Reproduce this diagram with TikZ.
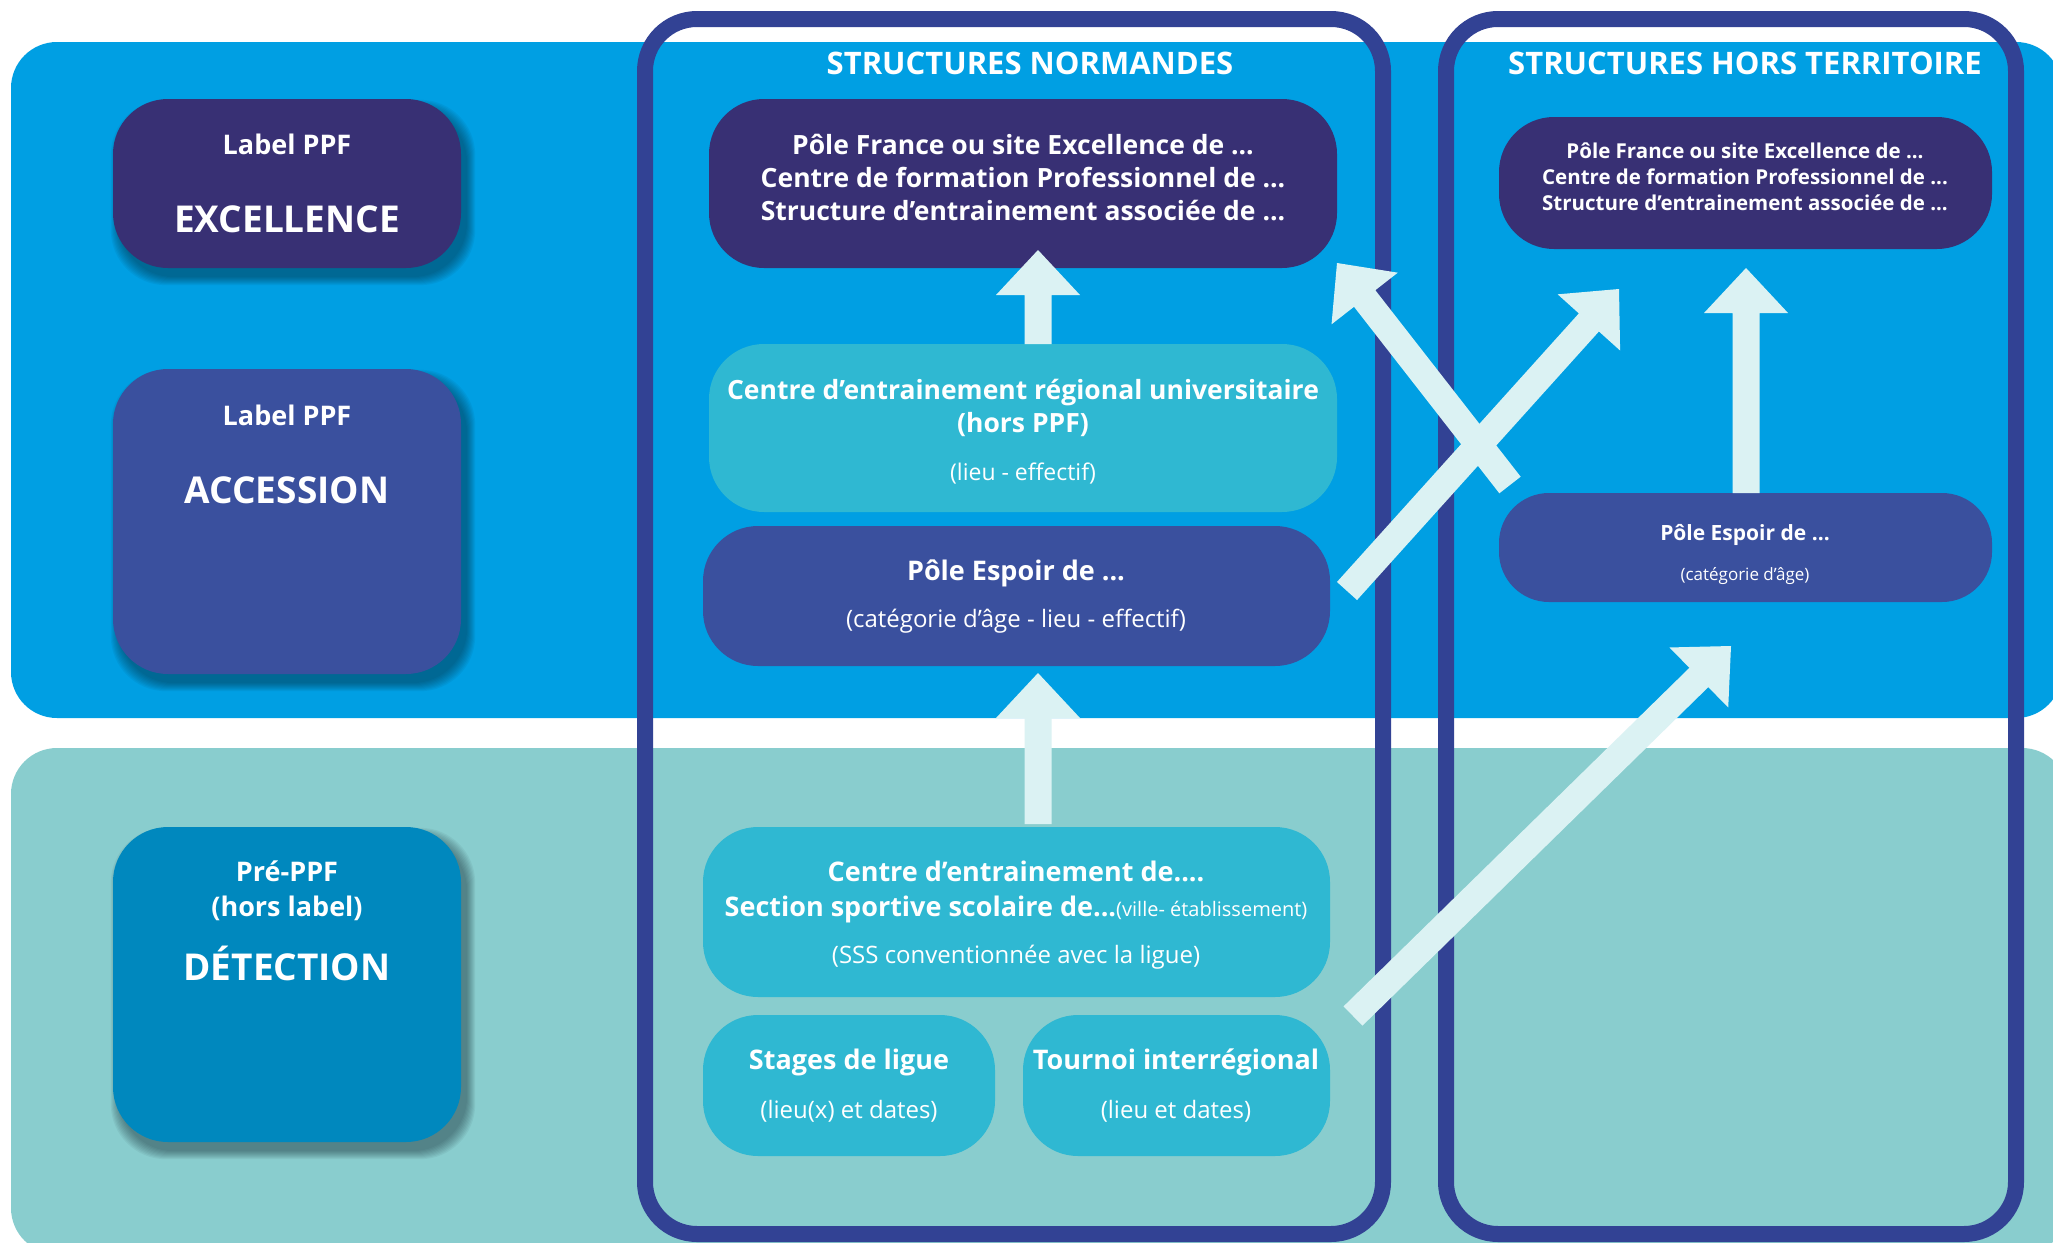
\documentclass[tikz,border=0pt]{standalone}
\usepackage{fontspec}
\setmainfont{Open Sans}
\usetikzlibrary{calc}
\definecolor{topblue}{RGB}{0,159,227}
\definecolor{botteal}{RGB}{137,205,206}
\definecolor{darkc}{RGB}{56,48,116}
\definecolor{midc}{RGB}{58,80,158}
\definecolor{detc}{RGB}{0,136,190}
\definecolor{lightc}{RGB}{47,184,210}
\definecolor{framec}{RGB}{50,66,148}
\definecolor{arrowc}{RGB}{219,242,243}
\definecolor{shadowc}{RGB}{10,30,40}
\pgfdeclarelayer{bg}
\pgfdeclarelayer{sh}
\pgfsetlayers{bg,sh,main}
\newcommand\fs[1]{\fontsize{#1}{#1}\selectfont}
\newcommand\bigarrow[3]{%
  \coordinate (#1h) at ($(#3)!45pt!(#2)$);
  \fill[arrowc] ($(#2)!13.5pt!90:(#3)$) -- ($(#1h)!13.5pt!-90:(#2)$) -- ($(#1h)!42pt!-90:(#2)$) -- (#3) -- ($(#1h)!42pt!90:(#2)$) -- ($(#1h)!13.5pt!90:(#2)$) -- ($(#2)!13.5pt!-90:(#3)$) -- cycle;}
\newcommand\boxshadow[1]{%
  \begin{pgfonlayer}{sh}
  \foreach \k in {0,...,8}{\fill[shadowc, opacity=0.055, rounded corners=55pt] ($(#1.north west)+(6-\k,9-\k)$) rectangle ($(#1.south east)+(6+\k,9+\k)$);}
  \end{pgfonlayer}}
\tikzset{
  box/.style={rectangle, rounded corners=55pt, inner sep=0pt, draw=none},
  frame/.style={rectangle, rounded corners=52pt, draw=framec, line width=16pt, inner sep=0pt},
  txt/.style={text=white, inner sep=0pt, anchor=base},
}
\begin{document}
\begin{tikzpicture}[x=1pt,y=-1pt]
\useasboundingbox (0,0) rectangle (2053,1242);
\clip (0,0) rectangle (2053,1242);
\begin{pgfonlayer}{bg}
\fill[white] (0,0) rectangle (2053,1242);
\fill[topblue, rounded corners=46pt] (11,42) rectangle (2062,718);
\fill[botteal, rounded corners=46pt] (11,748) rectangle (2068,1254);
\end{pgfonlayer}
% frames
\node[frame, minimum width=738pt, minimum height=1215pt] (fN) at (1014,626.5) {};
\node[frame, minimum width=570pt, minimum height=1215pt] (fH) at (1731,626.5) {};
\node[txt, font=\bfseries\fs{31}] (hN) at (1030,74) {STRUCTURES NORMANDES};
\node[txt, font=\bfseries\fs{31}] (hH) at (1745,74) {STRUCTURES HORS TERRITOIRE};
% left column
\node[box, fill=darkc, minimum width=348pt, minimum height=169pt] (exc) at (287,183.5) {};
\node[box, fill=midc, minimum width=348pt, minimum height=305pt] (acc) at (287,521.5) {};
\node[box, fill=detc, minimum width=348pt, minimum height=315pt] (det) at (287,984.5) {};
\boxshadow{exc}\boxshadow{acc}\boxshadow{det}
\node[txt, font=\bfseries\fs{27}] (excT1) at (287,154) {Label PPF};
\node[txt, font=\bfseries\fs{37}] (excT2) at (287,232) {EXCELLENCE};
\node[txt, font=\bfseries\fs{27}] (accT1) at (287,425) {Label PPF};
\node[txt, font=\bfseries\fs{37}] (accT2) at (287,503) {ACCESSION};
\node[txt, font=\bfseries\fs{27}] (detT1) at (287,881) {Pré-PPF};
\node[txt, font=\bfseries\fs{27}] (detT2) at (287,916) {(hors label)};
\node[txt, font=\bfseries\fs{37}] (detT3) at (287,980) {DÉTECTION};
% normandes
\node[box, fill=darkc, minimum width=628pt, minimum height=169pt] (nTop) at (1023,183.5) {};
\node[box, fill=lightc, minimum width=628pt, minimum height=168pt] (ceru) at (1023,428) {};
\node[box, fill=midc, minimum width=627pt, minimum height=140pt] (nEsp) at (1016.5,596) {};
\node[box, fill=lightc, minimum width=627pt, minimum height=170pt] (cent) at (1016.5,912) {};
\node[box, fill=lightc, minimum width=292pt, minimum height=141pt] (stag) at (849,1085.5) {};
\node[box, fill=lightc, minimum width=307pt, minimum height=141pt] (tour) at (1176.5,1085.5) {};
\node[txt, font=\bfseries\fs{26.5}] (nTopT1) at (1023,154) {Pôle France ou site Excellence de ...};
\node[txt, font=\bfseries\fs{26.5}] (nTopT2) at (1023,187.5) {Centre de formation Professionnel de ...};
\node[txt, font=\bfseries\fs{26.5}] (nTopT3) at (1023,220) {Structure d’entrainement associée de ...};
\node[txt, font=\bfseries\fs{26.5}] (ceruT1) at (1023,399) {Centre d’entrainement régional universitaire};
\node[txt, font=\bfseries\fs{26.5}] (ceruT2) at (1023,432) {(hors PPF)};
\node[txt, font=\fs{23}] (ceruT3) at (1023,480) {(lieu - effectif)};
\node[txt, font=\bfseries\fs{27}] (nEspT1) at (1016,580) {Pôle Espoir de ...};
\node[txt, font=\fs{24}] (nEspT2) at (1016,627) {(catégorie d’âge - lieu - effectif)};
\node[txt, font=\bfseries\fs{27}] (centT1) at (1016,881) {Centre d’entrainement de....};
\node[txt, font=\bfseries\fs{27}] (centT2) at (1016,916) {Section sportive scolaire de...{\mdseries\fs{20}(ville- établissement)}};
\node[txt, font=\fs{24}] (centT3) at (1016,963) {(SSS conventionnée avec la ligue)};
\node[txt, font=\bfseries\fs{27}] (stagT1) at (849,1069) {Stages de ligue};
\node[txt, font=\fs{24}] (stagT2) at (849,1118) {(lieu(x) et dates)};
\node[txt, font=\bfseries\fs{27}] (tourT1) at (1176,1069) {Tournoi interrégional};
\node[txt, font=\fs{24}] (tourT2) at (1176,1118) {(lieu et dates)};
% hors territoire
\node[box, fill=darkc, minimum width=493pt, minimum height=132pt] (hTop) at (1745.5,183) {};
\node[box, fill=midc, rounded corners=50pt, minimum width=493pt, minimum height=109pt] (hEsp) at (1745.5,547.5) {};
\node[txt, font=\bfseries\fs{20.5}] (hTopT1) at (1745,158.5) {Pôle France ou site Excellence de ...};
\node[txt, font=\bfseries\fs{20.5}] (hTopT2) at (1745,184) {Centre de formation Professionnel de ...};
\node[txt, font=\bfseries\fs{20.5}] (hTopT3) at (1745,210) {Structure d’entrainement associée de ...};
\node[txt, font=\bfseries\fs{21}] (hEspT1) at (1745,540) {Pôle Espoir de ...};
\node[txt, font=\fs{17}] (hEspT2) at (1745,580) {(catégorie d’âge)};
% arrows
\coordinate (a1s) at (1038,344); \coordinate (a1e) at (1038,250);
\coordinate (a2s) at (1038,824); \coordinate (a2e) at (1038,673);
\coordinate (a3s) at (1746,493); \coordinate (a3e) at (1746,268);
\coordinate (a4s) at (1347,591); \coordinate (a4e) at (1619,289);
\coordinate (a5s) at (1510,485); \coordinate (a5e) at (1337,263);
\coordinate (a6s) at (1353,1016); \coordinate (a6e) at (1731,646);
\bigarrow{a1}{a1s}{a1e}
\bigarrow{a2}{a2s}{a2e}
\bigarrow{a3}{a3s}{a3e}
\bigarrow{a4}{a4s}{a4e}
\bigarrow{a5}{a5s}{a5e}
\bigarrow{a6}{a6s}{a6e}
\end{tikzpicture}
\end{document}
